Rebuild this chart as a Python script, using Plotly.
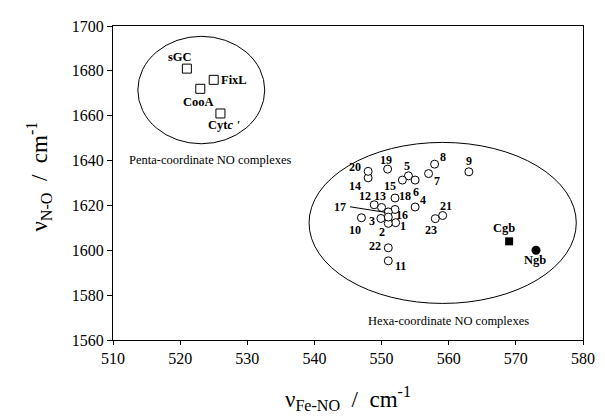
import plotly.graph_objects as go

# Penta-coordinate complexes (open squares)
penta_names = ["sGC", "FixL", "CooA", "Cytc'"]
penta_x = [521, 525, 523, 526]
penta_y = [1681, 1676, 1672, 1661]
penta_label_text = ["sGC", "FixL", "CooA", "Cyt<i>c</i> <i>'</i>"]
penta_label_x = [520.0, 528.0, 522.7, 526.5]
penta_label_y = [1686.4, 1676.1, 1665.9, 1656.0]

# Hexa-coordinate complexes (open circles), numbered 1-23
hexa_ids = ["1", "2", "3", "4", "5", "6", "7", "8", "9", "10", "11", "12",
            "13", "14", "15", "16", "17", "18", "19", "20", "21", "22", "23", ""]
hexa_x = [552.1, 551.0, 549.9, 555.0, 554.0, 555.0, 557.0, 557.9, 563.0, 547.0, 551.0, 548.9,
          550.0, 548.0, 553.1, 552.0, 551.0, 552.0, 550.9, 548.0, 559.1, 551.0, 558.0, 551.0]
hexa_y = [1612.3, 1612.0, 1614.2, 1619.3, 1633.2, 1631.3, 1634.2, 1638.4, 1635.0, 1614.5, 1595.3, 1620.3,
          1619.1, 1632.3, 1631.3, 1618.2, 1617.1, 1623.3, 1636.2, 1635.2, 1615.5, 1601.1, 1614.1, 1614.8]
hexa_label_x = [553.2, 550.1, 548.6, 556.1, 553.8, 555.2, 558.2, 559.1, 563.0, 546.1, 552.8, 547.6,
                549.8, 546.1, 551.2, 553.1, 543.8, 553.5, 550.6, 546.1, 559.6, 549.0, 557.3, None]
hexa_label_y = [1611.0, 1608.1, 1613.1, 1622.3, 1637.8, 1626.2, 1630.7, 1641.8, 1639.8, 1609.2, 1593.2, 1624.0,
                1624.0, 1628.8, 1628.8, 1615.8, 1619.4, 1624.4, 1640.3, 1637.0, 1619.8, 1601.7, 1609.2, None]

# Globins
cgb_x, cgb_y = [569], [1604]
ngb_x, ngb_y = [573], [1600]

x_ticks = [510, 520, 530, 540, 550, 560, 570, 580]
y_ticks = [1560, 1580, 1600, 1620, 1640, 1660, 1680, 1700]

FONT = "Liberation Serif, Times New Roman, serif"

fig = go.Figure()
fig.add_trace(go.Scatter(x=penta_x, y=penta_y, mode="markers",
                         marker=dict(symbol="square-open", size=9, color="black", line=dict(width=1)),
                         hoverinfo="skip", showlegend=False))
fig.add_trace(go.Scatter(x=hexa_x, y=hexa_y, mode="markers",
                         marker=dict(symbol="circle", size=8, color="white",
                                     line=dict(width=1, color="black")),
                         hoverinfo="skip", showlegend=False))
fig.add_trace(go.Scatter(x=cgb_x, y=cgb_y, mode="markers",
                         marker=dict(symbol="square", size=8, color="black"),
                         hoverinfo="skip", showlegend=False))
fig.add_trace(go.Scatter(x=ngb_x, y=ngb_y, mode="markers",
                         marker=dict(symbol="circle", size=9, color="black"),
                         hoverinfo="skip", showlegend=False))

# Ellipses
fig.add_shape(type="circle", xref="x", yref="y", x0=513.7, x1=532.6, y0=1647.5, y1=1695.4,
              line=dict(color="black", width=1))
fig.add_shape(type="circle", xref="x", yref="y", x0=539.2, x1=579.0, y0=1576.3, y1=1648.1,
              line=dict(color="black", width=1))

LBL = dict(family=FONT, size=12.5, color="black")
NUM = dict(family=FONT, size=12, color="black")
annotations = []
for t, lx, ly in zip(penta_label_text, penta_label_x, penta_label_y):
    annotations.append(dict(x=lx, y=ly, xref="x", yref="y", text="<b>" + t + "</b>", showarrow=False,
                            font=LBL))
for t, lx, ly in zip(hexa_ids, hexa_label_x, hexa_label_y):
    if lx is None:
        continue
    annotations.append(dict(x=lx, y=ly, xref="x", yref="y", text="<b>" + t + "</b>", showarrow=False,
                            font=NUM))
annotations.append(dict(x=568.3, y=1610, xref="x", yref="y", text="<b>Cgb</b>", showarrow=False,
                        font=LBL))
annotations.append(dict(x=572.9, y=1595.5, xref="x", yref="y", text="<b>Ngb</b>", showarrow=False,
                        font=LBL))
annotations.append(dict(x=524.5, y=1640.3, xref="x", yref="y", text="Penta-coordinate NO complexes",
                        showarrow=False, font=dict(family=FONT, size=12.5, color="black")))
annotations.append(dict(x=559.9, y=1568.6, xref="x", yref="y", text="Hexa-coordinate NO complexes",
                        showarrow=False, font=dict(family=FONT, size=12.5, color="black")))
# axis titles
annotations.append(dict(x=-0.195, y=0.52, xref="paper", yref="paper", textangle=-90,
                        text="ν<sub>N-O</sub>  /  cm<sup>-1</sup>", showarrow=False,
                        font=dict(family=FONT, size=23, color="black")))
annotations.append(dict(x=0.5, y=-0.185, xref="paper", yref="paper", yanchor="middle",
                        text="ν<sub>Fe-NO</sub>  /  cm<sup>-1</sup>", showarrow=False,
                        font=dict(family=FONT, size=23, color="black")))
fig.update_layout(annotations=annotations)

# leader line for label 17
fig.add_shape(type="line", xref="x", yref="y", x0=545.3, y0=1619.4, x1=550.6, y1=1616.9,
              line=dict(color="black", width=1))

# figure is offset by the page's default 8px body margin, so it is sized to fill the rest of the window
fig.update_layout(
    width=597, height=409,
    margin=dict(l=105, r=17, t=10, b=77),
    paper_bgcolor="white", plot_bgcolor="white",
    font=dict(family=FONT, size=16, color="black"),
    xaxis=dict(range=[510, 580], tickvals=x_ticks, showgrid=False, zeroline=False,
               showline=True, linecolor="black", linewidth=1, mirror=True,
               ticks="outside", ticklen=4, tickcolor="black",
               tickfont=dict(family=FONT, size=16, color="black")),
    yaxis=dict(range=[1560, 1700], tickvals=y_ticks, showgrid=False, zeroline=False,
               showline=True, linecolor="black", linewidth=1, mirror=True,
               ticks="outside", ticklen=5, tickcolor="black",
               tickfont=dict(family=FONT, size=16, color="black")),
)

fig.write_html("out.html")
